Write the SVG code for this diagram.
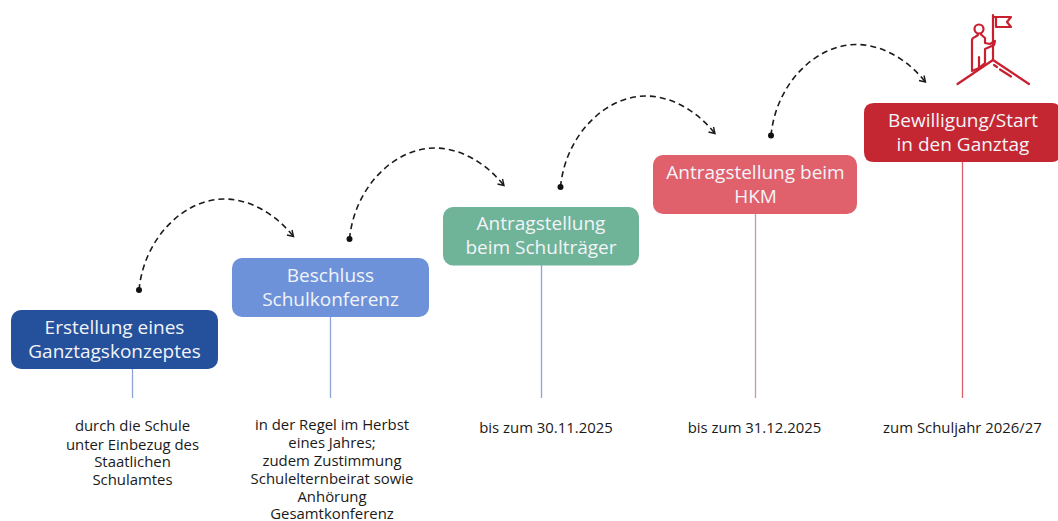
<svg xmlns="http://www.w3.org/2000/svg" width="1058" height="521" viewBox="0 0 1058 521">
<style>
text{font-family:"Open Sans","Noto Sans",sans-serif}
.t{font-size:19px;fill:#f2f4f8;text-anchor:middle}
.n{font-size:14.900px;fill:#1a1a1a;text-anchor:middle}
.arc{fill:none;stroke:#1a1a1a;stroke-width:1.6;stroke-dasharray:6 4}
.head{fill:none;stroke:#1a1a1a;stroke-width:1.4}
.ic{fill:none;stroke:#c8202f;stroke-width:2.200;stroke-linejoin:round;stroke-linecap:round}
</style>
<defs>
<g id="a">
<path class="arc" d="M0 0C5 -52 45 -91 85 -91C113 -91 138 -74 154 -54"/>
<path class="head" d="M148 -55L154.500 -53.500L153 -60"/>
<circle r="3" fill="#111"/>
</g>
</defs>
<g id="connectors">
<path d="M132.500 369V398" stroke="#8fa3d6" stroke-width="1.300"/>
<path d="M330.500 317V398" stroke="#8fa3d6" stroke-width="1.300"/>
<path d="M541.500 265V398" stroke="#8fa3d6" stroke-width="1.300"/>
<path d="M755.500 214V398" stroke="#d8909c" stroke-width="1.300"/>
<path d="M962.500 162V398" stroke="#d8606c" stroke-width="1.300"/>
<use href="#a" x="139" y="290"/>
<use href="#a" x="349.500" y="239"/>
<use href="#a" x="560.500" y="187"/>
<use href="#a" x="771" y="135.500"/>
</g>
<g id="node1">
<rect x="11" y="310" width="207" height="59" rx="10" fill="#25509b"/>
<text class="t" x="114.500" y="334">Erstellung eines</text>
<text class="t" x="114.500" y="358">Ganztagskonzeptes</text>
<text class="n" x="132.500" y="431">durch die Schule</text>
<text class="n" x="132.500" y="449.500">unter Einbezug des</text>
<text class="n" x="132.500" y="467">Staatlichen</text>
<text class="n" x="132.500" y="485">Schulamtes</text>
</g>
<g id="node2">
<rect x="232" y="258" width="197" height="59" rx="10" fill="#6d92da"/>
<text class="t" x="330.500" y="282">Beschluss</text>
<text class="t" x="330.500" y="306">Schulkonferenz</text>
<text class="n" x="332" y="430">in der Regel im Herbst</text>
<text class="n" x="332" y="448">eines Jahres;</text>
<text class="n" x="332" y="466">zudem Zustimmung</text>
<text class="n" x="332" y="484">Schulelternbeirat sowie</text>
<text class="n" x="332" y="501.500">Anhörung</text>
<text class="n" x="332" y="518.500">Gesamtkonferenz</text>
</g>
<g id="node3">
<rect x="443" y="207" width="196" height="58.500" rx="10" fill="#6fb398"/>
<text class="t" x="541" y="230">Antragstellung</text>
<text class="t" x="541" y="254">beim Schulträger</text>
<text class="n" x="546" y="433">bis zum 30.11.2025</text>
</g>
<g id="node4">
<rect x="653" y="155" width="204" height="59" rx="10" fill="#e0606c"/>
<text class="t" x="755.500" y="179">Antragstellung beim</text>
<text class="t" x="755.500" y="203">HKM</text>
<text class="n" x="754.500" y="433">bis zum 31.12.2025</text>
</g>
<g id="node5">
<path d="M874 103H1052Q1056 103 1058 105V160Q1056 162 1052 162H874Q864 162 864 152V113Q864 103 874 103Z" fill="#c42632"/>
<text class="t" x="963" y="127">Bewilligung/Start</text>
<text class="t" x="963" y="151">in den Ganztag</text>
<text class="n" x="962.500" y="433">zum Schuljahr 2026/27</text>
</g>
<g id="goal-icon">
<path class="ic" d="M957.500 84L993 60L1029 84"/>
<path class="ic" d="M994 65L997 67M1000 69.500L1011 76.500"/>
<path class="ic" d="M993 60V15M993 17H1011L1007 22L1011 27H996V17"/>
<circle class="ic" cx="979" cy="29" r="4.500"/>
<path class="ic" d="M972 71V40Q972 38 975 37L978 35M981 34.500L985 38V43M985 43L990 44L995 41L994 45L985 49V63M979 68V57M972 71L979 68M985 63L979 68"/>
</g>
</svg>
